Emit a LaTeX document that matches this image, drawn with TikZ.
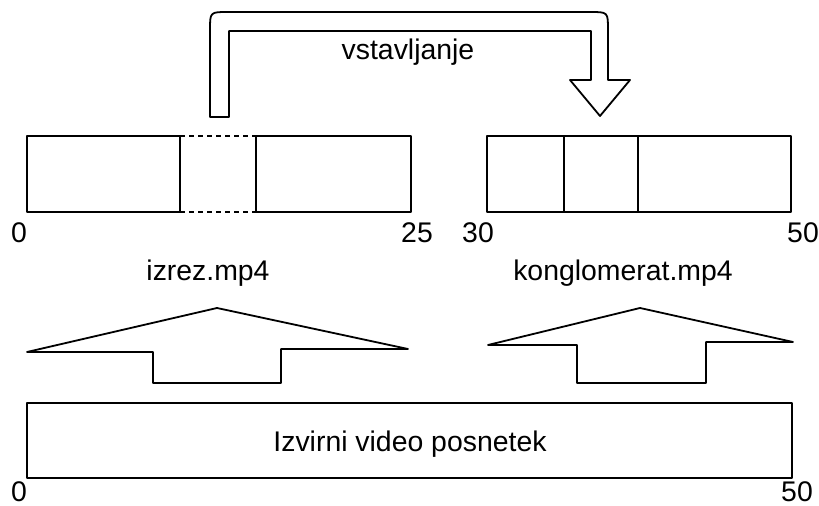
\documentclass[tikz,border=0pt]{standalone}
\usepackage{fontspec}
\setmainfont{Liberation Sans}
\usetikzlibrary{positioning}

\begin{document}
\begin{tikzpicture}[x=0.5pt, y=-0.5pt, line width=0.9pt, line join=round,
    oznaka/.style={font=\fontsize{14.2}{17}\selectfont, inner sep=0pt, anchor=base},
    rez/.style={dash pattern=on 2.5pt off 2pt}]
  \useasboundingbox (0,0) rectangle (819,506);

  % vstavljanje: upognjena puscica
  \draw (210,117) -- (210,30) .. controls (210,12) .. (228,12)
        -- (590,12) .. controls (608,12) .. (608,30)
        -- (608,80) -- (630,80) -- (600,116) -- (570,80) -- (591,80)
        -- (591,31) -- (229,31) -- (229,117) -- cycle;
  \node[oznaka] (vstavljanje) at (408,60) {vstavljanje};

  % izrez.mp4
  \draw (27,136) rectangle (180,212);
  \draw (256,136) rectangle (411,212);
  \draw[rez] (180,136) -- (256,136);
  \draw[rez] (180,212) -- (256,212);
  \node[oznaka] (iz0) at (19,243) {0};
  \node[oznaka] (iz25) at (417,243) {25};
  \node[oznaka] (izrez) at (208,281) {izrez.mp4};

  % konglomerat.mp4
  \draw (487,136) rectangle (791,212);
  \draw (564,136) -- (564,212);
  \draw (638,136) -- (638,212);
  \node[oznaka] (ko30) at (478,243) {30};
  \node[oznaka] (ko50) at (803,243) {50};
  \node[oznaka] (konglomerat) at (623,281) {konglomerat.mp4};

  % puscici navzgor
  \draw (27,352) -- (153,352) -- (153,383) -- (281,383) -- (281,349)
        -- (408,349) -- (217,308) -- cycle;
  \draw (488,345) -- (577,345) -- (577,383) -- (706,383) -- (706,342)
        -- (793,342) -- (640,308) -- cycle;

  % izvirni posnetek
  \node[draw, minimum width=382.5pt, minimum height=37.5pt, inner sep=0pt]
    (izvirnik) at (409.5,440.5) {};
  \node[oznaka] (izvirni) at (410,452) {Izvirni video posnetek};
  \node[oznaka] (iv0) at (19,502) {0};
  \node[oznaka] (iv50) at (797,502) {50};
\end{tikzpicture}
\end{document}
